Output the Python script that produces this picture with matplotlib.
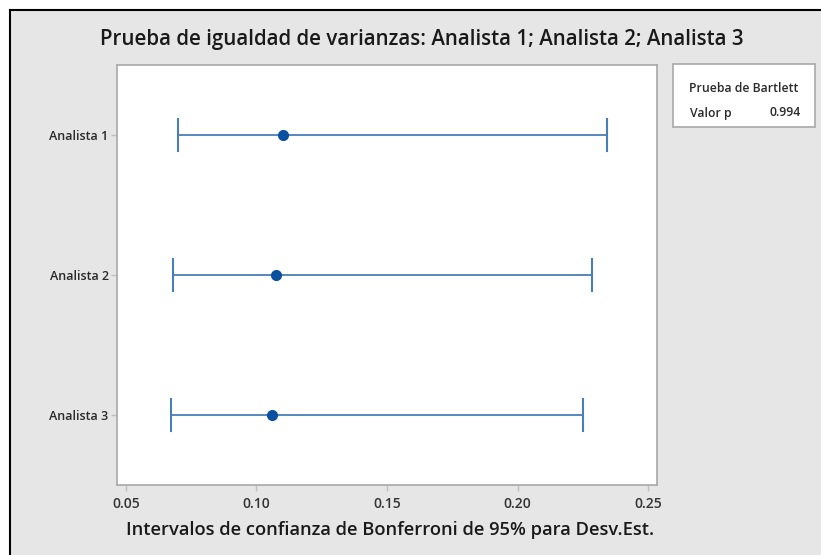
import matplotlib.pyplot as plt
from matplotlib.lines import Line2D
from matplotlib.patches import Rectangle

# Bonferroni 95% CIs for StDev
groups = ['Analista 1', 'Analista 2', 'Analista 3']
stdev = [0.110, 0.1075, 0.106]
ci_low = [0.0699, 0.0680, 0.0672]
ci_high = [0.2343, 0.2285, 0.2252]
x_ticks = [0.05, 0.10, 0.15, 0.20, 0.25]
p_value = 0.994

plt.rcParams['font.family'] = ['Open Sans', 'DejaVu Sans']

W, H = 821, 555
fig = plt.figure(figsize=(W / 100, H / 100), dpi=100)
fig.patch.set_facecolor('#e6e6e6')

# screenshot frame: white strip + black border on top/left
fig.add_artist(Rectangle((0, 0), 9 / W, 1, transform=fig.transFigure, color='white', zorder=0))
fig.add_artist(Rectangle((0, 1 - 9 / H), 1, 9 / H, transform=fig.transFigure, color='white', zorder=0))
fig.add_artist(Line2D([9.5 / W, 9.5 / W], [0, 1 - 9.5 / H], transform=fig.transFigure, color='black', lw=1.5))
fig.add_artist(Line2D([9.5 / W, 1], [1 - 9.5 / H, 1 - 9.5 / H], transform=fig.transFigure, color='black', lw=1.5))

ax = fig.add_axes([117 / W, 1 - 485 / H, (657 - 117) / W, (485 - 65) / H])
ax.set_facecolor('white')

y = list(range(1, len(groups) + 1))
for yi, lo, hi, s in zip(y, ci_low, ci_high, stdev):
    ax.plot([lo, hi], [yi, yi], color='#4a7ebb', lw=1.3, zorder=2)
    ax.plot([lo, lo], [yi - 0.115, yi + 0.115], color='#4a7ebb', lw=1.5, zorder=2)
    ax.plot([hi, hi], [yi - 0.115, yi + 0.115], color='#4a7ebb', lw=1.5, zorder=2)
    ax.plot(s, yi, 'o', color='#0a4fa0', ms=7, zorder=3)

ax.set_ylim(3.5, 0.5)
ax.set_xlim(0.0466, 0.2534)
ax.set_yticks(y)
ax.set_yticklabels(groups, fontsize=9, color='#2a2a2a', fontweight='semibold')
ax.set_xticks(x_ticks)
ax.set_xticklabels([f'{t:.2f}' for t in x_ticks], fontsize=10, color='#333333', fontweight='semibold')
ax.tick_params(color='#c0c0c0', length=4, width=1)
ax.tick_params(axis='x', pad=5)
ax.tick_params(axis='y', pad=2)
for sp in ax.spines.values():
    sp.set_color('#a8a8a8')
    sp.set_linewidth(1.2)

fig.text(422 / W, 1 - 40 / H, 'Prueba de igualdad de varianzas: Analista 1; Analista 2; Analista 3',
         ha='center', va='center', fontsize=14.8, color='#1a1a1a', fontweight='semibold')
fig.text(390 / W, 1 - 530 / H, 'Intervalos de confianza de Bonferroni de 95% para Desv.Est.',
         ha='center', va='center', fontsize=13.2, color='#1a1a1a', fontweight='semibold')

# Bartlett box
fig.add_artist(Rectangle((673 / W, 1 - 127 / H), (815 - 673) / W, (127 - 64) / H,
                         transform=fig.transFigure, facecolor='white', edgecolor='#a8a8a8', lw=1.2))
fig.text(744 / W, 1 - 89 / H, 'Prueba de Bartlett', ha='center', va='center', fontsize=8.8,
         color='#2a2a2a', fontweight='semibold')
fig.text(690 / W, 1 - 113 / H, 'Valor p', ha='left', va='center', fontsize=8.8,
         color='#2a2a2a', fontweight='semibold')
fig.text(801 / W, 1 - 113 / H, f'{p_value:.3f}', ha='right', va='center', fontsize=8.8,
         color='#2a2a2a', fontweight='semibold')

fig.savefig('out.png', dpi=100, facecolor=fig.get_facecolor())
